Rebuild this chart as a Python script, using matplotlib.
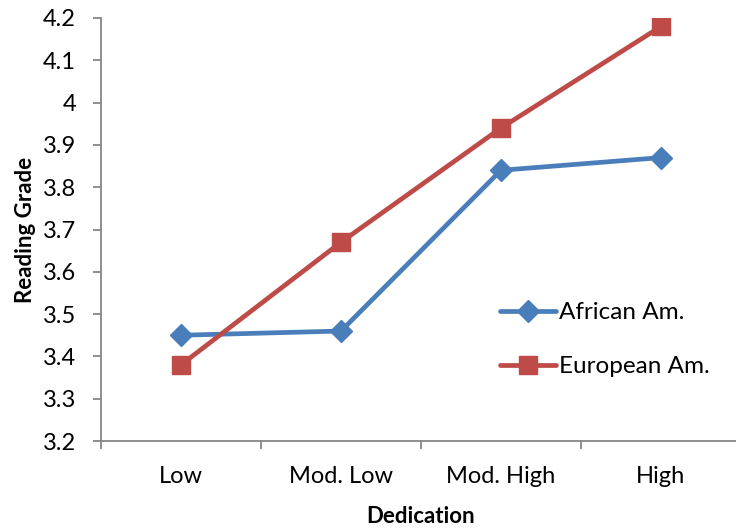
import matplotlib
matplotlib.use("Agg")
import matplotlib.pyplot as plt
from matplotlib.ticker import FixedLocator, FixedFormatter

plt.rcParams['font.family'] = ['Lato', 'DejaVu Sans']

categories = ["Low", "Mod. Low", "Mod. High", "High"]
african = [3.45, 3.46, 3.84, 3.87]
european = [3.38, 3.67, 3.94, 4.18]
yticks = [3.2, 3.3, 3.4, 3.5, 3.6, 3.7, 3.8, 3.9, 4.0, 4.1, 4.2]
ytick_labels = ["3.2", "3.3", "3.4", "3.5", "3.6", "3.7", "3.8", "3.9", "4", "4.1", "4.2"]

fig = plt.figure(figsize=(7.36, 5.29), dpi=100)
ax = fig.add_axes([101/736, (529-441)/529, 640/736, (441-18)/529])

x = list(range(len(categories)))
ax.plot(x, african, color="#4a7ebb", lw=3.4, marker="D", ms=11, label="African Am.", solid_capstyle="round")
ax.plot(x, european, color="#be4b48", lw=3.4, marker="s", ms=13, label="European Am.", solid_capstyle="round")

ax.set_xlim(-0.5, 3.5)
ax.set_ylim(3.2, 4.2)
ax.yaxis.set_major_locator(FixedLocator(yticks))
ax.yaxis.set_major_formatter(FixedFormatter(ytick_labels))
ax.set_xticks(x)
ax.set_xticklabels(categories)
ax.set_xticks([-0.5, 0.5, 1.5, 2.5, 3.5], minor=True)
ax.tick_params(axis='x', which='major', length=0, pad=18, labelsize=17)
ax.tick_params(axis='x', which='minor', length=6, color="#868686", width=1.3, direction='out')
ax.tick_params(axis='y', length=6, color="#868686", width=1.3, direction='out', labelsize=17, pad=12)

for s in ["top", "right"]:
    ax.spines[s].set_visible(False)
for s in ["left", "bottom"]:
    ax.spines[s].set_color("#868686")
    ax.spines[s].set_linewidth(1.3)

ax.set_ylabel("Reading Grade", fontsize=16, fontweight="bold", labelpad=5)
ax.set_xlabel("Dedication", fontsize=16, fontweight="bold", labelpad=14)

ax.legend(loc="center left", bbox_to_anchor=(0.623, 0.239), frameon=False, fontsize=17.5,
          handlelength=2.3, handletextpad=0.15, labelspacing=1.35, borderaxespad=0, borderpad=0)

fig.savefig("out.png", dpi=100)
